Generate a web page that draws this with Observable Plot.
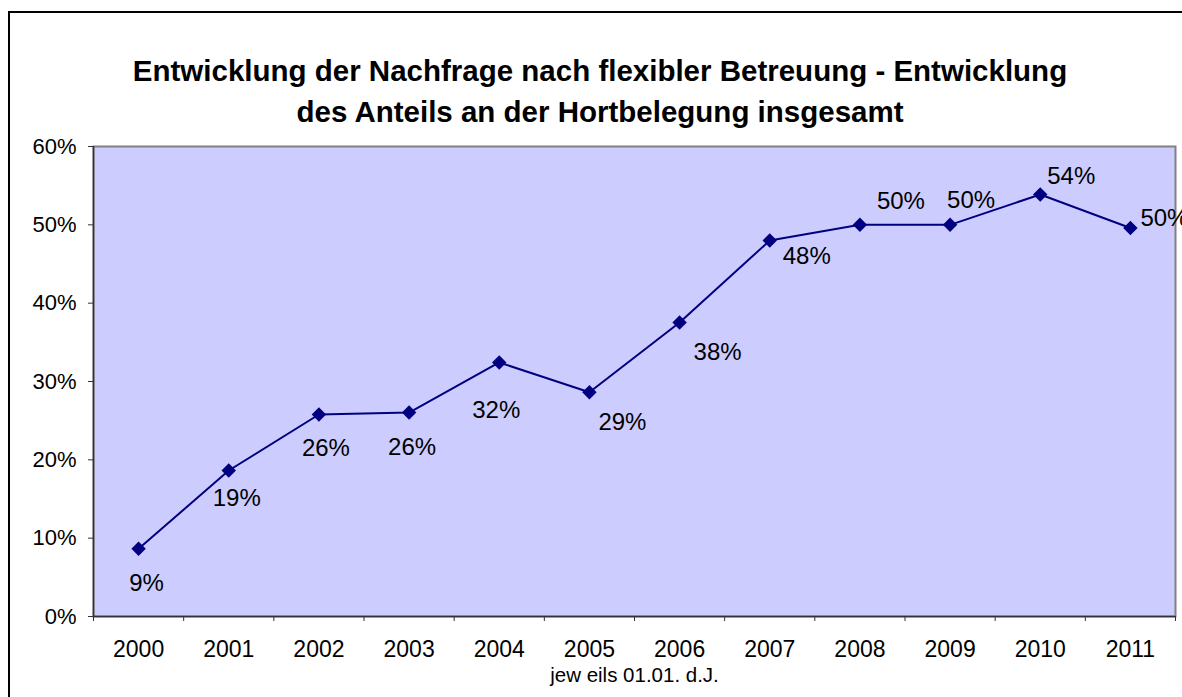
<!DOCTYPE html>
<html><head><meta charset="utf-8">
<script src="https://cdn.jsdelivr.net/npm/d3@7"></script>
<script src="https://cdn.jsdelivr.net/npm/@observablehq/plot@0.6"></script>
<style>
html,body{margin:0;width:1182px;height:697px;background:#fff;font-family:"Liberation Sans",Arial,sans-serif;overflow:hidden;}
#frameTop{position:absolute;left:8px;top:11px;width:1174px;height:1.5px;background:#000;}
#frameLeft{position:absolute;left:8px;top:11px;width:1.5px;height:686px;background:#000;}
#title{position:absolute;left:0;top:50px;width:1200px;text-align:center;font-weight:bold;font-size:29.5px;line-height:41px;color:#000;white-space:nowrap;}
#chart{position:absolute;left:0;top:126px;width:1182px;height:571px;overflow:hidden;}
</style></head><body>
<div id="frameTop"></div>
<div id="frameLeft"></div>
<div id="title">Entwicklung der Nachfrage nach flexibler Betreuung - Entwicklung<br>des Anteils an der Hortbelegung insgesamt</div>
<div id="chart"></div>
<script>
const years = [2000, 2001, 2002, 2003, 2004, 2005, 2006, 2007, 2008, 2009, 2010, 2011];
const shares = [8.64, 18.64, 25.79, 26.04, 32.43, 28.63, 37.53, 48.0, 50.0, 50.0, 53.87, 49.6];
const yTicks = [0, 10, 20, 30, 40, 50, 60];
const xAxisTitle = "jew eils 01.01. d.J.";
const labelOffsets = [[8,34],[8,28],[7,34],[3,35],[-3,48],[33,30],[38,30],[37,16],[41,-24],[21,-25],[31,-18],[34,-10]];

const data = years.map((year, i) => ({year, share: shares[i], label: Math.round(shares[i]) + "%"}));
const boundaries = years.map(y => y - 0.5).concat([years[years.length - 1] + 0.5]);
const font = '"Liberation Sans", Arial, sans-serif';

const labelMarks = data.map((d, i) => Plot.text([d], {
  x: "year", y: "share", text: "label",
  dx: labelOffsets[i][0], dy: labelOffsets[i][1],
  fontSize: 24, lineAnchor: "middle", textAnchor: "middle", fill: "#000"
}));

const plot = Plot.plot({
  width: 1182, height: 571,
  marginTop: 20, marginLeft: 93, marginRight: 7, marginBottom: 81,
  style: {fontFamily: font, fontSize: "22px", color: "#000", background: "transparent"},
  x: {domain: [boundaries[0], boundaries[boundaries.length - 1]]},
  y: {domain: [0, 60]},
  marks: [
    Plot.frame({fill: "#ccccff", stroke: "#808080", strokeWidth: 2}),
    Plot.axisY({ticks: yTicks, tickSize: 5, tickPadding: 12, tickFormat: d => d + "%", fontSize: 22, label: null, stroke: "#333"}),
    Plot.axisX({ticks: boundaries, tickSize: 5, tickFormat: () => "", label: null, stroke: "#333"}),
    Plot.axisX({ticks: years, tickSize: 0, tickPadding: 24, tickFormat: d => String(d), fontSize: 23, label: null}),
    Plot.ruleX([boundaries[0]], {stroke: "#333", strokeWidth: 1.5}),
    Plot.ruleY([0], {stroke: "#333", strokeWidth: 1.5}),
    Plot.line(data, {x: "year", y: "share", stroke: "#000080", strokeWidth: 2}),
    Plot.dot(data, {x: "year", y: "share", symbol: "diamond2", r: 6.5, fill: "#000080", stroke: "none"}),
    ...labelMarks,
    Plot.text([xAxisTitle], {text: d => d, frameAnchor: "bottom", dy: 59, fontSize: 20.5, lineAnchor: "middle", fill: "#000"})
  ]
});
document.getElementById("chart").appendChild(plot);
</script>
</body></html>
